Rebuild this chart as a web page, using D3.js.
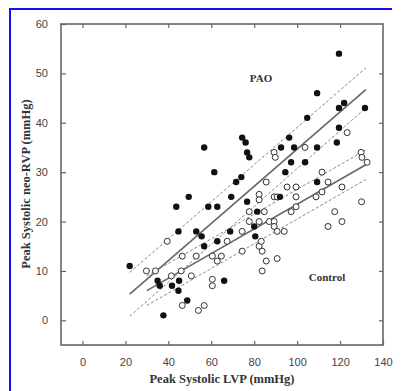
<!DOCTYPE html>
<html><head><meta charset="utf-8">
<script src="https://cdn.jsdelivr.net/npm/d3@7"></script>
<style>body{margin:0;background:#fff}svg{display:block}</style>
</head><body><svg id="c" width="401" height="391"></svg>
<script>
const xTicks=[0,20,40,60,80,100,120,140];
const yTicks=[0,10,20,30,40,50,60];
const paoX=[22,35,36,37.7,41.7,43.7,44.7,45,44.7,48.8,49.5,53,55.5,56.7,56.7,58.6,61.4,62.8,62.8,66,68.8,69.3,71.6,74,74.4,76,76.7,77.7,76.7,80,80.5,81.4,92,92.5,94.5,96.3,97.2,98.6,103.7,104.7,109.3,109.3,109.3,118.5,119.5,119.5,119.5,121.9,131.6];
const paoY=[11,8,7,1,7,23,18,8,6,4,25,18,17,15,35,23,30,23,16,8,18,25,28,29,37,36,34,33,24,19,17,22,25,35,30,37,32,35,32,41,46,35,28,36,39,43,54,44,43];
const ctlX=[29.8,34,39.5,41.4,46,46.5,46.5,50.7,53,54,56.7,60.5,62.8,64.7,60.5,60.5,67.4,74.4,74.4,77.7,77.7,82.3,82.3,82.3,82.3,83.7,85.6,83.7,90.7,83.3,84.7,85.6,87,89.3,89.3,89.3,90.7,90.7,94,89.3,89.8,95.3,99.5,99.5,99.5,97.2,103.7,108.8,111.6,111.6,114.4,114.4,117.5,120.9,120.9,123.3,129.8,130.2,132.6,130];
const ctlY=[10,10,16,9,10,13,3,9,13,2,3,13,12,13,8.3,7,16,14,18,20,22,20,25.5,24.4,15,14,12,10,12.5,16,22,28,20,20,19,25,25,18,18,34,33,27,27,25,23,22,35,25,26,30,28,19,22,20,27,38,34,33,32,24];
// regression lines [x1,y1,x2,y2]
const paoFit=[22,5.3,132,46.7];
const paoUp=[22,9.7,132,51.1];
const paoLo=[22,0.8,132,43];
const ctlFit=[30,6,132,31.5];
const ctlUp=[30,9,132,34.5];
const ctlLo=[30,3,132,28.5];

const svg=d3.select('#c');
// blue border (left and top)
svg.append('path').attr('d','M10,391V9H392').attr('fill','none').attr('stroke','#1010f0').attr('stroke-width',2);

const L=61,R=383,T=24,B=345;
const x=d3.scaleLinear().domain([-10,140]).range([L,R]);
const y=d3.scaleLinear().domain([-5,60]).range([B,T]);

const fr=svg.append('g');
fr.append('rect').attr('x',L).attr('y',T).attr('width',R-L).attr('height',B-T).attr('fill','none').attr('stroke','#666').attr('stroke-width',1.6);

const tickFont='"Liberation Sans",Arial,sans-serif';
function styleAxis(g,show){
  g.select('.domain').remove();
  g.selectAll('.tick line').attr('stroke','#666').attr('stroke-width',1.2);
  g.selectAll('.tick text').attr('fill','#444').style('font-family',tickFont).style('font-size','11px');
  if(!show) g.selectAll('.tick text').remove();
}
svg.append('g').attr('transform',`translate(0,${B})`).call(d3.axisBottom(x).tickValues(xTicks).tickSize(-4).tickPadding(13)).call(g=>styleAxis(g,true));
svg.append('g').attr('transform',`translate(0,${T})`).call(d3.axisTop(x).tickValues(xTicks.slice(0,7)).tickSize(-4)).call(g=>styleAxis(g,false));
svg.append('g').attr('transform',`translate(${L},0)`).call(d3.axisLeft(y).tickValues(yTicks).tickSize(-5).tickPadding(13)).call(g=>styleAxis(g,true));
svg.append('g').attr('transform',`translate(${R},0)`).call(d3.axisRight(y).tickValues(yTicks.slice(0,6)).tickSize(-4)).call(g=>styleAxis(g,false));

function seg(s,dash,w,col){
  svg.append('line').attr('x1',x(s[0])).attr('y1',y(s[1])).attr('x2',x(s[2])).attr('y2',y(s[3]))
   .attr('stroke',col).attr('stroke-width',w).attr('stroke-dasharray',dash);
}
seg(paoFit,null,1.6,'#666');seg(paoUp,'3,2',1,'#888');seg(paoLo,'3,2',1,'#888');
seg(ctlFit,null,1.6,'#666');seg(ctlUp,'3,2',1,'#888');seg(ctlLo,'3,2',1,'#888');

svg.append('g').selectAll('circle').data(ctlX.map((v,i)=>[v,ctlY[i]])).join('circle')
 .attr('cx',d=>x(d[0])).attr('cy',d=>y(d[1])).attr('r',3).attr('fill','#fff').attr('stroke','#333').attr('stroke-width',1);
svg.append('g').selectAll('circle').data(paoX.map((v,i)=>[v,paoY[i]])).join('circle')
 .attr('cx',d=>x(d[0])).attr('cy',d=>y(d[1])).attr('r',3.2).attr('fill','#111');

const serif='"Liberation Serif","Times New Roman",serif';
svg.append('text').attr('x',261).attr('y',82).attr('text-anchor','middle').style('font-family',serif).style('font-weight','bold').style('font-size','11px').attr('fill','#333').text('PAO');
svg.append('text').attr('x',327).attr('y',281).attr('text-anchor','middle').style('font-family',serif).style('font-weight','bold').style('font-size','11px').attr('fill','#333').text('Control');
svg.append('text').attr('x',222).attr('y',383).attr('text-anchor','middle').style('font-family',serif).style('font-weight','bold').style('font-size','12.5px').attr('fill','#333').text('Peak Systolic LVP (mmHg)');
svg.append('text').attr('transform','translate(30,184) rotate(-90)').attr('text-anchor','middle').style('font-family',serif).style('font-weight','bold').style('font-size','12.5px').attr('fill','#333').text('Peak Systolic neo-RVP (mmHg)');
</script></body></html>
